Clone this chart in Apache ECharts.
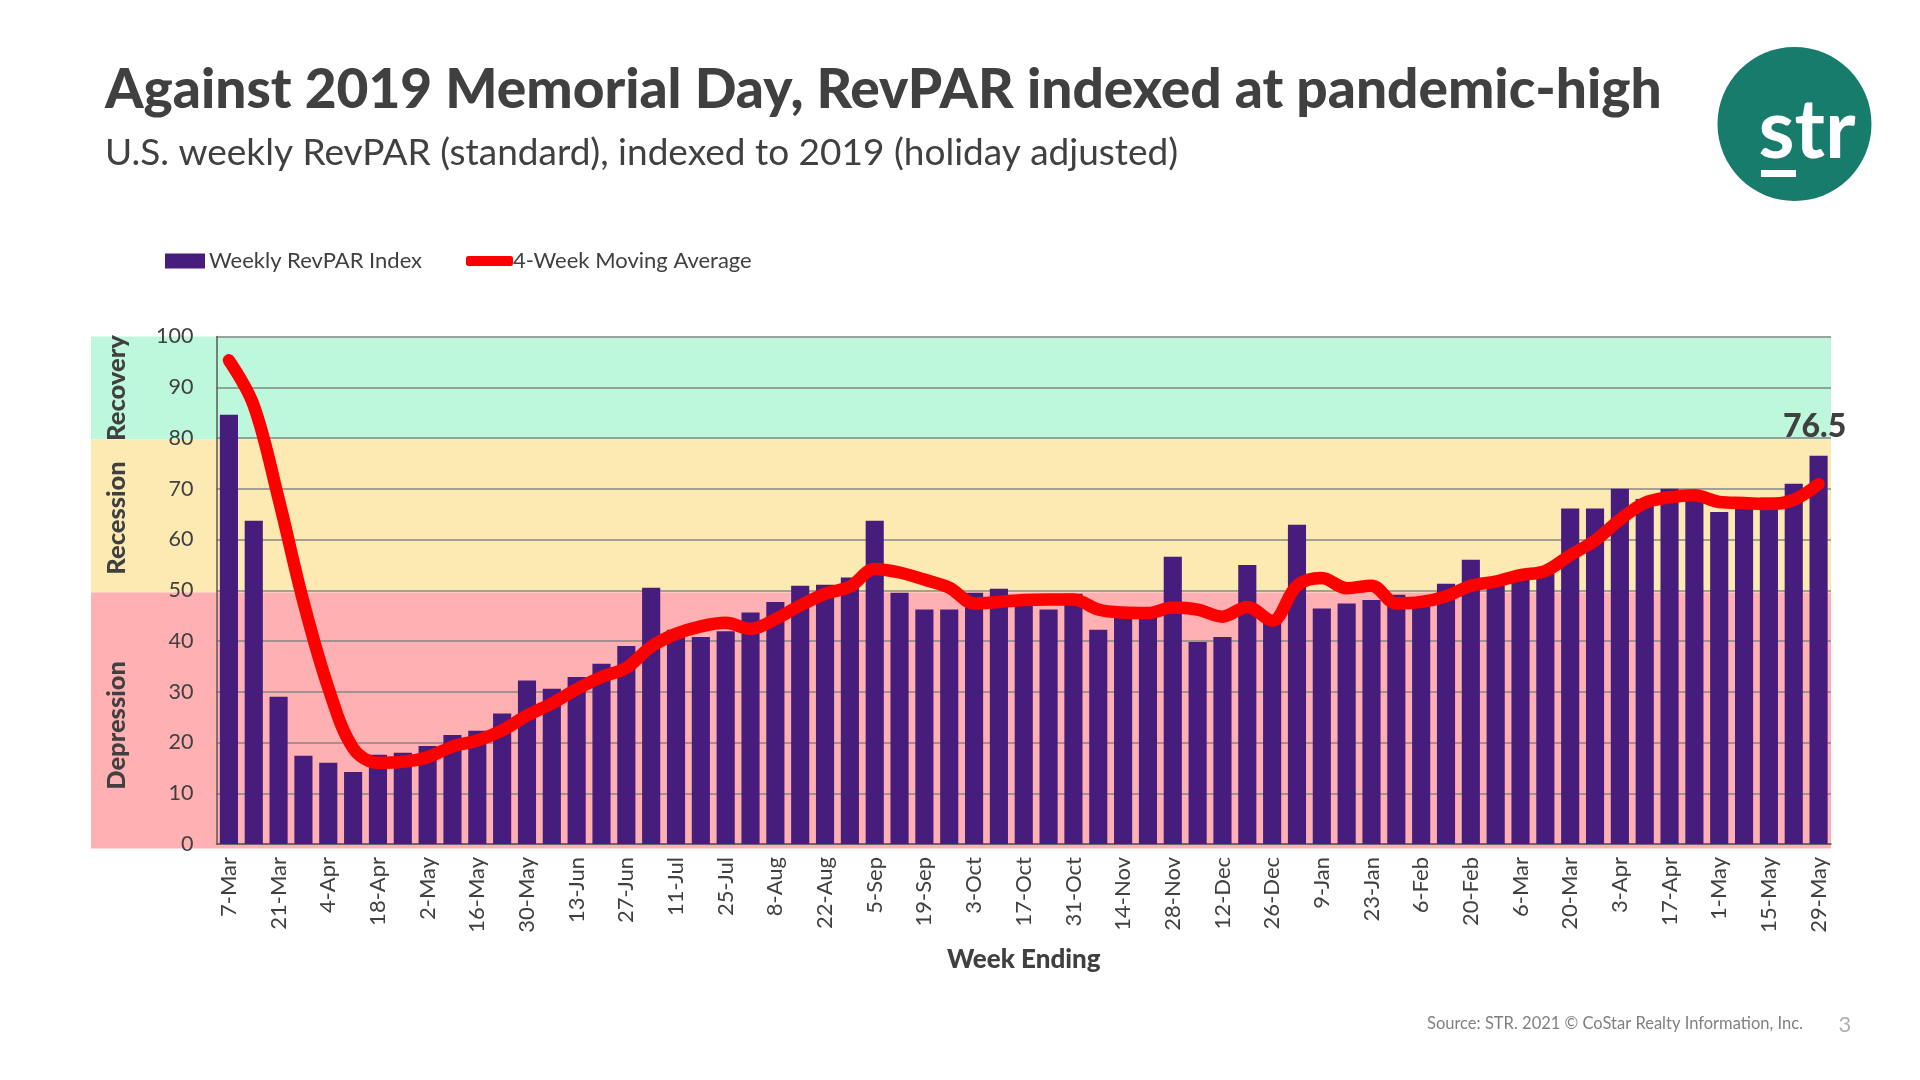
<!DOCTYPE html>
<html><head><meta charset="utf-8">
<script src="https://cdn.jsdelivr.net/npm/echarts@6/dist/echarts.min.js"></script>
<style>html,body{margin:0;padding:0;background:#fff}#c{width:1920px;height:1080px}</style>
</head><body><div id="c"></div>
<script>
const titleText = 'Against 2019 Memorial Day, RevPAR indexed at pandemic-high';
const subtitleText = 'U.S. weekly RevPAR (standard), indexed to 2019 (holiday adjusted)';
const sourceText = 'Source: STR. 2021 © CoStar Realty Information, Inc.';
const barName = 'Weekly RevPAR Index';
const lineName = '4-Week Moving Average';
const weeks = ['7-Mar','14-Mar','21-Mar','28-Mar','4-Apr','11-Apr','18-Apr','25-Apr','2-May','9-May','16-May','23-May','30-May','6-Jun','13-Jun','20-Jun','27-Jun','4-Jul','11-Jul','18-Jul','25-Jul','1-Aug','8-Aug','15-Aug','22-Aug','29-Aug','5-Sep','12-Sep','19-Sep','26-Sep','3-Oct','10-Oct','17-Oct','24-Oct','31-Oct','7-Nov','14-Nov','21-Nov','28-Nov','5-Dec','12-Dec','19-Dec','26-Dec','2-Jan','9-Jan','16-Jan','23-Jan','30-Jan','6-Feb','13-Feb','20-Feb','27-Feb','6-Mar','13-Mar','20-Mar','27-Mar','3-Apr','10-Apr','17-Apr','24-Apr','1-May','8-May','15-May','22-May','29-May'];
const weekly = [84.6,63.7,29,17.4,16,14.2,17.6,18,19.3,21.5,22.3,25.7,32.2,30.6,32.9,35.5,39,50.5,42.2,40.8,41.9,45.6,47.7,50.9,51.1,52.5,63.7,49.5,46.2,46.2,49.5,50.3,48,46.2,49.3,42.2,45.2,45.2,56.6,39.8,40.8,55,45,62.9,46.4,47.4,48.1,49.1,47,51.3,56,51.5,52.5,53.5,66.1,66.1,70,68,70,69,65.4,67.5,68.3,71,76.5];
const movingAvg = [95.3,86.4,68,47.7,30.8,18.9,16,16.2,17.1,19.2,20.4,22.4,25.3,27.7,30.5,32.9,34.7,38.9,41.4,42.9,43.6,42.4,44.3,47,49.3,50.7,54.2,53.5,52.1,50.5,47.4,47.7,48.1,48.2,48.2,46.2,45.6,45.5,46.6,46.2,44.8,46.7,44,50.9,52.4,50.4,50.9,47.4,47.7,48.8,50.9,51.7,53,53.8,56.9,59.8,63.9,67.2,68.3,68.7,67.4,67.2,67,67.8,70.9];
const bandNames = ['Depression','Recession','Recovery'];
const bandEdges = [-0.85,49.6,79.7,100];
const bandColors = ['#ffb0b3','#fdeab2','#bdf7dc'];

const FONT = 'Lato';
const TXT = '#404040';
const chart = echarts.init(document.getElementById('c'), null, {renderer:'canvas'});
chart.setOption({
  animation:false,
  backgroundColor:'#fff',
  textStyle:{fontFamily:FONT},
  title:[
    {text:titleText,left:100,top:58,textStyle:{fontFamily:FONT,fontWeight:900,fontSize:55,color:TXT}},
    {text:subtitleText,left:100,top:130,textStyle:{fontFamily:FONT,fontWeight:'normal',fontSize:37,color:TXT}}
  ],
  legend:[
    {data:[{name:barName,icon:'rect'}],left:160,top:245,itemWidth:40,itemHeight:15,itemGap:0,selectedMode:false,
     textStyle:{fontFamily:FONT,fontSize:22,color:TXT,padding:[0,0,0,-1]}},
    {data:[{name:lineName,icon:'roundRect'}],left:461,top:245,itemWidth:47,itemHeight:10,itemGap:0,selectedMode:false,
     textStyle:{fontFamily:FONT,fontSize:22,color:TXT,padding:[0,0,0,-5]}}
  ],
  grid:[
    {id:'bands',left:91,top:336.5,width:1740,height:512,outerBoundsMode:'none'},
    {id:'plot',left:216.5,top:336.5,width:1614.5,height:507.5,outerBoundsMode:'none'}
  ],
  xAxis:[
    {gridIndex:0,type:'value',min:0,max:1,show:false},
    {gridIndex:1,type:'category',data:weeks,z:1,
     axisTick:{show:false},
     axisLine:{show:true,lineStyle:{color:'#5a5a5a',width:1.5}},
     axisLabel:{interval:1,rotate:90,margin:13,fontFamily:FONT,fontSize:22,color:TXT},
     name:'Week Ending',nameLocation:'middle',nameGap:103,
     nameTextStyle:{fontFamily:FONT,fontWeight:900,fontSize:26,color:TXT}}
  ],
  yAxis:[
    {gridIndex:0,type:'value',min:bandEdges[0],max:bandEdges[3],show:false},
    {gridIndex:1,type:'value',min:0,max:100,interval:10,z:1,
     axisLine:{show:true,lineStyle:{color:'#5a5a5a',width:1.5}},
     axisTick:{show:false},
     axisLabel:{margin:23,fontFamily:FONT,fontSize:21.5,color:TXT},
     splitLine:{show:true,lineStyle:{color:'#868686',width:1.5}}}
  ],
  series:[
    {type:'line',name:'bands',xAxisIndex:0,yAxisIndex:0,data:[],z:-1,silent:true,
     markArea:{silent:true,z:0,data:bandNames.map((n,i)=>[
       {name:n,yAxis:bandEdges[i],itemStyle:{color:bandColors[i],opacity:1},
        label:{show:true,position:[26,'50%'],offset:[i===0?-5:(i===1?-2:0),0],align:'center',verticalAlign:'middle',rotate:90,
               fontFamily:FONT,fontWeight:900,fontSize:25.5,color:TXT}},
       {yAxis:bandEdges[i+1]}
     ])}},
    {type:'bar',name:barName,xAxisIndex:1,yAxisIndex:1,data:weekly.map((v,i)=>i===weekly.length-1?{value:v,label:{show:true,position:'top',distance:4,offset:[-4,-9],formatter:p=>p.value.toFixed(1),fontFamily:FONT,fontWeight:900,fontSize:32,color:TXT}}:v),
     barWidth:'73%',itemStyle:{color:'#461d7c'},z:2},
    {type:'line',name:lineName,xAxisIndex:1,yAxisIndex:1,data:movingAvg,smooth:0.35,symbol:'none',
     lineStyle:{color:'#ff0000',width:12.5,cap:'round',join:'round'},itemStyle:{color:'#ff0000'},z:3}
  ],
  graphic:[
    {type:'circle',shape:{cx:1794.5,cy:124,r:77},style:{fill:'#177c6b'}},
    {type:'text',style:{text:'str',x:1807,y:174,align:'center',verticalAlign:'bottom',fill:'#fff',font:'bold 82px Lato',lineHeight:84}},
    {type:'rect',shape:{x:1761,y:170,width:35,height:7},style:{fill:'#fff'}},
    {type:'text',style:{text:sourceText,x:1427,y:1024,align:'left',verticalAlign:'middle',fill:'#808080',font:'16.5px Lato'}},
    {type:'text',style:{text:'3',x:1845,y:1025,align:'center',verticalAlign:'middle',fill:'#b0b0b0',font:'22px Lato'}}
  ]
});
</script></body></html>
